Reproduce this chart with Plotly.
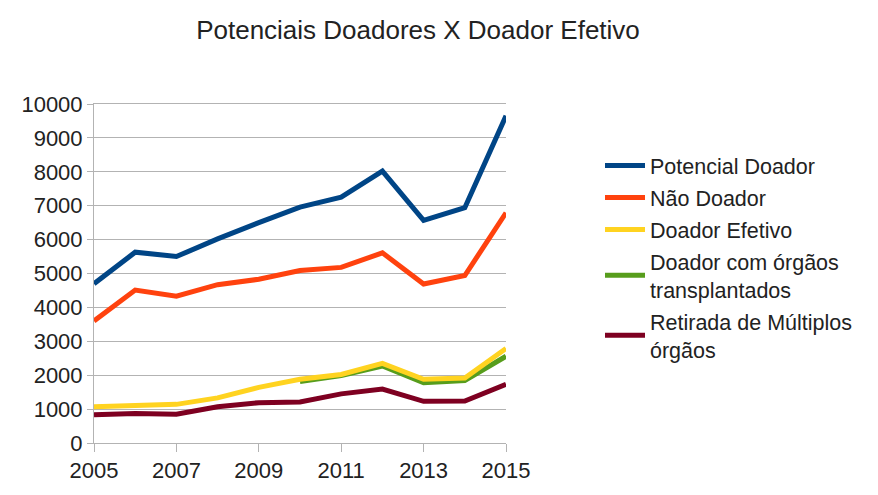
import plotly.graph_objects as go

years = [2005, 2006, 2007, 2008, 2009, 2010, 2011, 2012, 2013, 2014, 2015]
potencial_doador = [4700, 5630, 5500, 6020, 6500, 6960, 7250, 8020, 6570, 6940, 9650]
nao_doador = [3600, 4510, 4330, 4670, 4830, 5090, 5180, 5610, 4690, 4940, 6790]
doador_efetivo = [1070, 1090, 1140, 1330, 1640, 1880, 2020, 2350, 1880, 1920, 2790]
doador_transplantados = [None, None, None, None, None, 1810, 1990, 2270, 1780, 1840, 2560]
retirada_multiplos = [830, 870, 850, 1070, 1190, 1210, 1450, 1590, 1230, 1240, 1730]

y_ticks = [0, 1000, 2000, 3000, 4000, 5000, 6000, 7000, 8000, 9000, 10000]
x_ticks = [2005, 2007, 2009, 2011, 2013, 2015]

names = ["Potencial Doador", "Não Doador", "Doador Efetivo",
         "Doador com órgãos<br>transplantados", "Retirada de Múltiplos<br>órgãos"]
colors = ["#004586", "#ff420e", "#ffd320", "#579d1c", "#7e0021"]
series = [potencial_doador, nao_doador, doador_efetivo, doador_transplantados, retirada_multiplos]
draw_order = [0, 1, 3, 2, 4]

fig = go.Figure()
for i in draw_order:
    fig.add_trace(go.Scatter(
        x=years, y=series[i], name=names[i], mode="lines",
        line=dict(color=colors[i], width=5),
        legendrank=i + 1, legendgroup=str(i),
    ))

font_family = "Liberation Sans, Arial, sans-serif"
fig.update_layout(
    width=878, height=495,
    margin=dict(l=94, r=372, t=104, b=41),
    paper_bgcolor="white", plot_bgcolor="white",
    font=dict(family=font_family, color="#222222", size=22),
    title=dict(text="Potenciais Doadores X Doador Efetivo", x=418 / 878, xanchor="center",
               y=1 - 30 / 495, yanchor="middle", font=dict(size=26, color="#222222")),
    showlegend=True,
    legend=dict(xref="container", yref="container", x=600 / 878, y=1 - 145 / 495,
                xanchor="left", yanchor="top", font=dict(size=21.5, color="#222222"),
                tracegroupgap=1, itemwidth=40, bgcolor="rgba(0,0,0,0)"),
    xaxis=dict(range=[2005, 2015], tickmode="array", tickvals=x_ticks,
               ticktext=[str(v) for v in x_ticks],
               showgrid=False, zeroline=False, showline=True, linecolor="#b3b3b3", linewidth=1,
               mirror=True, ticks="outside", ticklen=8, tickcolor="#b3b3b3",
               tickfont=dict(size=22)),
    yaxis=dict(range=[0, 10000], tickmode="array", tickvals=y_ticks,
               ticktext=[str(v) for v in y_ticks],
               showgrid=True, gridcolor="#b3b3b3", gridwidth=1, zeroline=False,
               showline=True, linecolor="#b3b3b3", ticks="outside", ticklen=6,
               tickcolor="#b3b3b3", tickfont=dict(size=22)),
)

fig.write_html("out.html")
